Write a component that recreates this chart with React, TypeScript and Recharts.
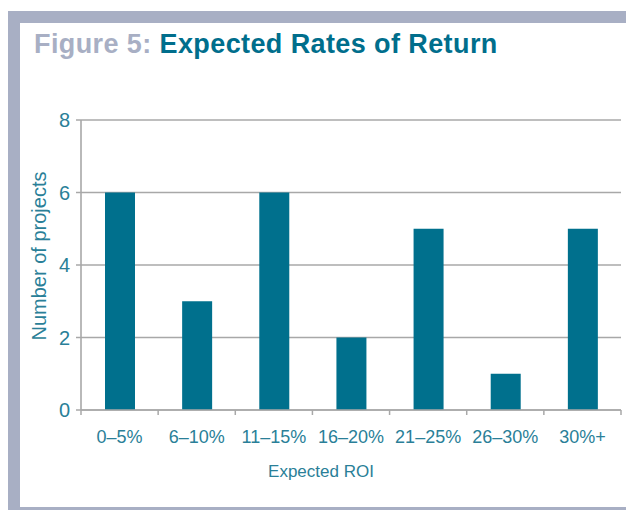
import { BarChart, Bar, XAxis, YAxis, CartesianGrid } from 'recharts';

const CATEGORIES = ['0–5%', '6–10%', '11–15%', '16–20%', '21–25%', '26–30%', '30%+'];
const PROJECTS = [6, 3, 6, 2, 5, 1, 5];
const Y_TICKS = [0, 2, 4, 6, 8];

const data = CATEGORIES.map((range, i) => ({ range, projects: PROJECTS[i] }));

const TEAL = '#00708d';
const TEXT = '#2a7f98';
const GRID = '#a8a8a8';
const FRAME = '#a8afc4';
const FONT = '"Liberation Sans", Arial, Helvetica, sans-serif';

function XTick(props: any) {
  const { x, y, payload, index } = props;
  const half = payload?.offset ?? 540 / 7 / 2;
  const last = index === CATEGORIES.length - 1;
  return (
    <g>
      <line x1={x - half} y1={y} x2={x - half} y2={y + 5} stroke={GRID} strokeWidth={1.5} />
      {last && <line x1={x + half} y1={y} x2={x + half} y2={y + 5} stroke={GRID} strokeWidth={1.5} />}
      <text x={x} y={y + 33} textAnchor="middle" fill={TEXT} fontSize={18} fontFamily={FONT}>
        {payload.value}
      </text>
    </g>
  );
}

function XLabel(props: any) {
  const vb = props.viewBox;
  return (
    <text x={vb.x + vb.width / 2 - 30} y={vb.y + 67} textAnchor="middle" fill={TEXT} fontSize={17} fontFamily={FONT}>
      Expected ROI
    </text>
  );
}

function YLabel(props: any) {
  const vb = props.viewBox;
  const cx = vb.x + 5;
  const cy = vb.y + vb.height / 2 - 9;
  return (
    <text
      x={cx}
      y={cy}
      transform={`rotate(-90 ${cx} ${cy})`}
      textAnchor="middle"
      fill={TEXT}
      fontSize={20}
      fontFamily={FONT}
    >
      Number of projects
    </text>
  );
}

export default function App() {
  return (
    <div style={{ position: 'relative', width: 626, height: 502, overflow: 'hidden', fontFamily: FONT }}>
      <div
        style={{
          position: 'absolute',
          left: 0,
          top: 3,
          width: 608,
          height: 484,
          border: `12px solid ${FRAME}`,
          background: '#fff',
        }}
      />
      <div
        style={{
          position: 'absolute',
          left: 26,
          top: 23,
          fontSize: 27,
          lineHeight: '26px',
          fontWeight: 'bold',
          letterSpacing: 0.4,
          whiteSpace: 'nowrap',
        }}
      >
        <span style={{ color: FRAME }}>Figure 5: </span>
        <span style={{ color: '#006e8c' }}>Expected Rates of Return</span>
      </div>
      <div style={{ position: 'absolute', left: 0, top: 0 }}>
        <BarChart
          width={626}
          height={502}
          data={data}
          margin={{ top: 112, right: 13, left: 33, bottom: 60 }}
        >
          <CartesianGrid vertical={false} stroke={GRID} strokeWidth={1.6} />
          <XAxis
            dataKey="range"
            height={40}
            interval={0}
            tickSize={0}
            tickMargin={0}
            tickLine={false}
            axisLine={{ stroke: GRID, strokeWidth: 1.6 }}
            tick={<XTick />}
            label={<XLabel />}
          />
          <YAxis
            width={40}
            domain={[0, 8]}
            ticks={Y_TICKS}
            tickSize={5}
            tickMargin={6}
            tickLine={{ stroke: GRID, strokeWidth: 1.5 }}
            axisLine={{ stroke: GRID, strokeWidth: 1.6 }}
            tick={{ fill: TEXT, fontSize: 20, fontFamily: FONT }}
            label={<YLabel />}
          />
          <Bar dataKey="projects" fill={TEAL} barSize={30} isAnimationActive={false} />
        </BarChart>
      </div>
    </div>
  );
}
